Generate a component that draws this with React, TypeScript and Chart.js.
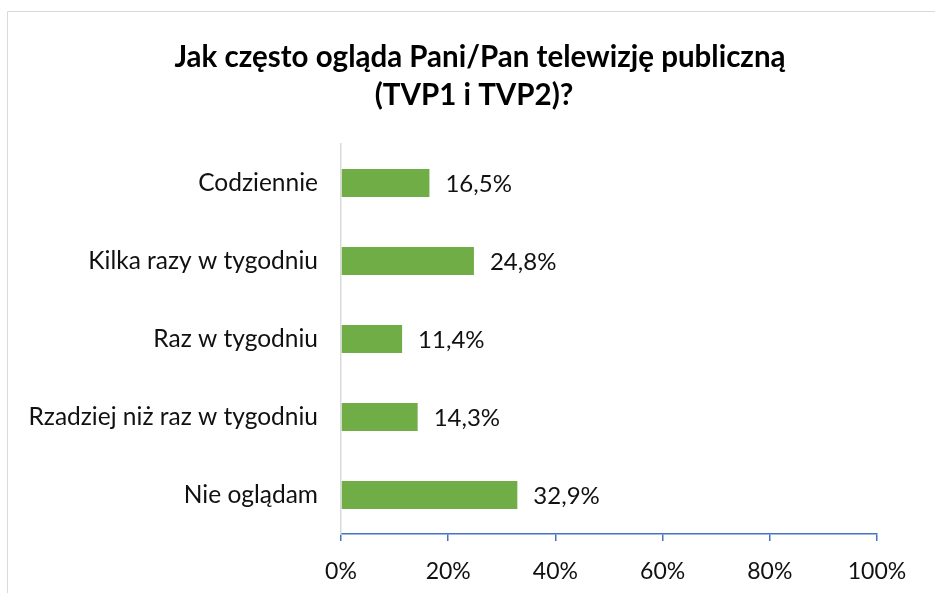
import React, { useEffect, useRef } from "react";
import { Chart, registerables } from "chart.js";

Chart.register(...registerables);

const titleLines = ["Jak często ogląda Pani/Pan telewizję publiczną", "(TVP1 i TVP2)?"];
const categories = ["Codziennie", "Kilka razy w tygodniu", "Raz w tygodniu", "Rzadziej niż raz w tygodniu", "Nie oglądam"];
const values = [16.5, 24.8, 11.4, 14.3, 32.9];
const valueLabels = ["16,5%", "24,8%", "11,4%", "14,3%", "32,9%"];
const xTicks = [0, 20, 40, 60, 80, 100];

const FONT = "Lato, 'Liberation Sans', sans-serif";

const framePlugin = {
  id: "frame",
  beforeDraw(chart: any) {
    const ctx = chart.ctx;
    ctx.save();
    ctx.fillStyle = "#ffffff";
    ctx.fillRect(0, 0, chart.width, chart.height);
    ctx.strokeStyle = "#D9D9D9";
    ctx.lineWidth = 1;
    ctx.beginPath();
    ctx.moveTo(7.5, chart.height);
    ctx.lineTo(7.5, 11.5);
    ctx.lineTo(chart.width, 11.5);
    ctx.stroke();
    ctx.restore();
  },
  afterDraw(chart: any) {
    const ctx = chart.ctx;
    ctx.save();
    ctx.fillStyle = "#000000";
    ctx.textAlign = "center";
    ctx.textBaseline = "middle";
    ctx.font = `bold 29.5px ${FONT}`;
    ctx.fillText(titleLines[0], 480, 57);
    ctx.fillText(titleLines[1], 474, 95);
    // data labels
    const meta = chart.getDatasetMeta(0);
    ctx.font = `24px ${FONT}`;
    ctx.textAlign = "left";
    ctx.fillStyle = "#111111";
    meta.data.forEach((bar: any, i: number) => {
      ctx.fillText(valueLabels[i], bar.x + 16, bar.y + 1);
    });
    ctx.restore();
  },
};

export default function App() {
  const ref = useRef<HTMLCanvasElement>(null);
  useEffect(() => {
    if (!ref.current) return;
    const chart = new Chart(ref.current, {
      type: "bar",
      data: {
        labels: categories,
        datasets: [
          {
            data: values,
            backgroundColor: "#70AD47",
            borderWidth: 0,
            barPercentage: 0.72,
            categoryPercentage: 0.5,
          },
        ],
      },
      options: {
        indexAxis: "y",
        responsive: false,
        animation: false,
        layout: { padding: { left: 0, top: 144, right: 58, bottom: 0 } },
        plugins: { legend: { display: false }, tooltip: { enabled: false }, title: { display: false } },
        scales: {
          x: {
            min: 0,
            max: 100,
            afterFit(scale: any) {
              scale.height = 59;
            },
            afterBuildTicks(scale: any) {
              scale.ticks = xTicks.map((v) => ({ value: v }));
            },
            border: { display: true, color: "#4472C4", width: 1.5 },
            grid: { display: true, drawOnChartArea: false, drawTicks: true, tickLength: 7, color: "#4472C4", lineWidth: 1.5 },
            ticks: {
              padding: 17,
              color: "#111111",
              font: { family: FONT, size: 23 },
              callback: (v: any) => `${v}%`,
            },
          },
          y: {
            afterFit(scale: any) {
              scale.width = 341;
            },
            border: { display: true, color: "#D9D9D9", width: 1.5 },
            grid: { display: false, drawTicks: false },
            ticks: {
              padding: 23,
              color: "#111111",
              font: { family: FONT, size: 24.5 },
            },
          },
        },
      },
      plugins: [framePlugin],
    });
    return () => chart.destroy();
  }, []);
  return (
    <div style={{ position: "fixed", left: 0, top: 0, width: 935, height: 593 }}>
      <canvas ref={ref} width={935} height={593} style={{ display: "block" }} />
    </div>
  );
}
